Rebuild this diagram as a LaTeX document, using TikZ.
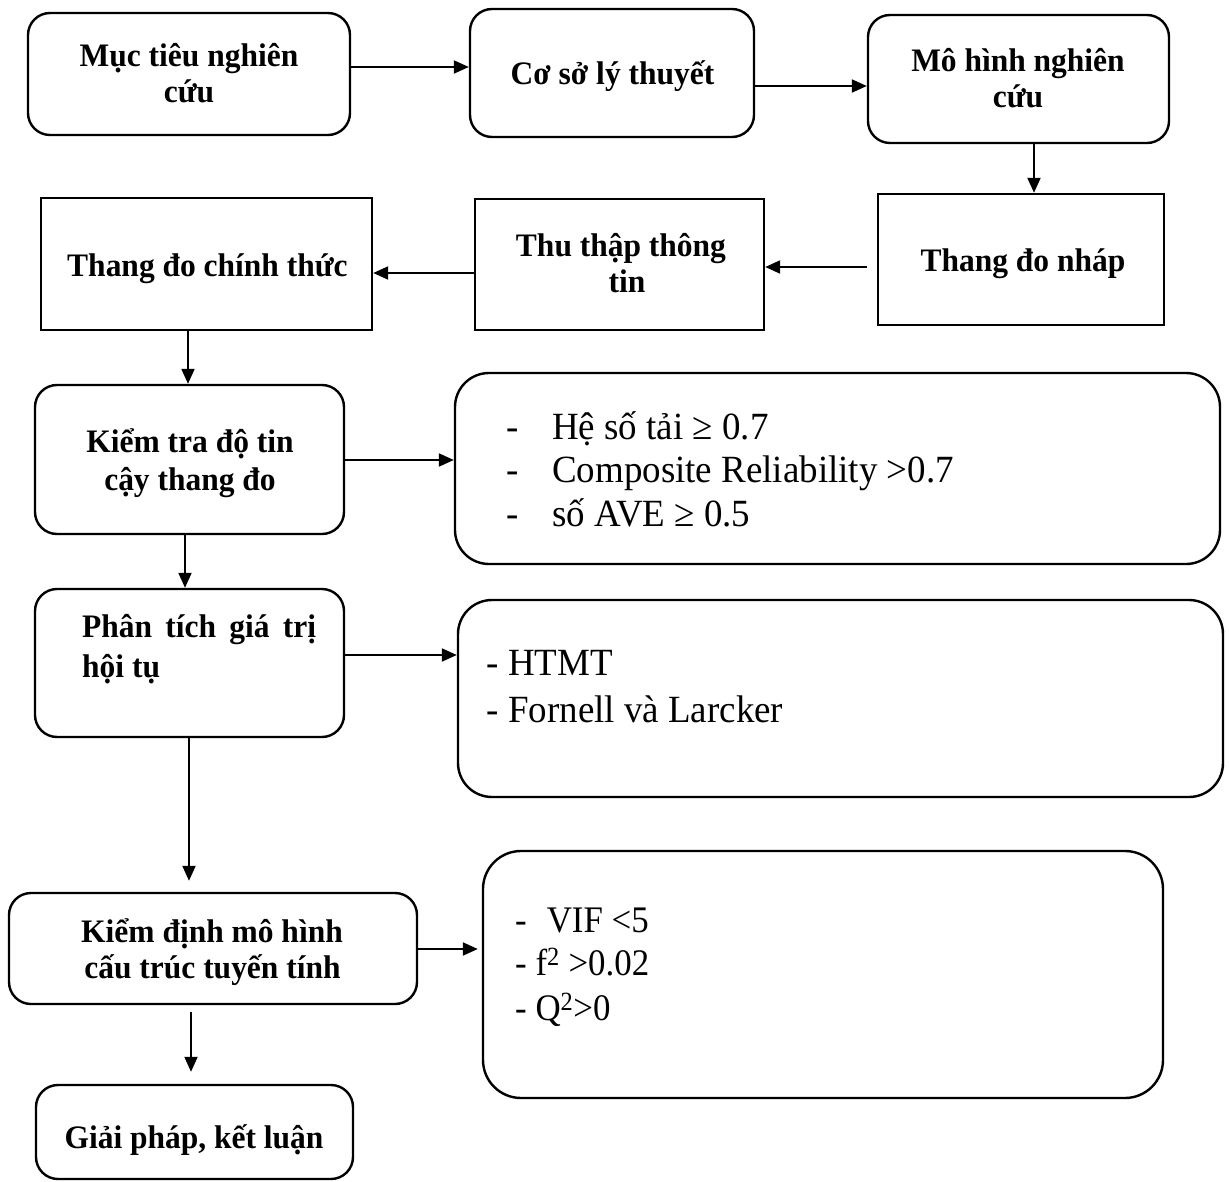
\documentclass[tikz,border=0pt]{standalone}
\usepackage{fontspec}
\setmainfont[FakeStretch=0.96]{Liberation Serif}
\newfontfamily\cthreefont[FakeStretch=0.93]{Liberation Serif}
\usetikzlibrary{arrows.meta}
\begin{document}
\begin{tikzpicture}[x=1pt,y=-1pt,
  rbox/.style={draw, line width=2.4pt, rounded corners=22pt, inner sep=0pt},
  bigbox/.style={draw, line width=2.4pt, rounded corners=34pt, inner sep=0pt},
  sbox/.style={draw, line width=2.4pt, inner sep=0pt},
  bt/.style={font=\fontsize{32.8}{36}\selectfont\bfseries, inner sep=0pt, anchor=base},
  btl/.style={font=\fontsize{32.8}{36}\selectfont\bfseries, inner sep=0pt, anchor=base west},
  rt/.style={font=\fontsize{38.5}{43}\selectfont, inner sep=0pt, anchor=base west},
  ct/.style={font=\cthreefont\fontsize{37.5}{43}\selectfont, inner sep=0pt, anchor=base west},
  arr/.style={line width=2pt, -{Triangle[length=15pt,width=13pt]}}]
\useasboundingbox (0,0) rectangle (1229,1182);

% boxes
\node[rbox, minimum width=322pt, minimum height=122pt] (b1) at (189,74) {};
\node[rbox, minimum width=284pt, minimum height=128pt] (b2) at (612,73) {};
\node[rbox, minimum width=301pt, minimum height=128pt] (b3) at (1018.5,79) {};
\node[sbox, minimum width=286pt, minimum height=131pt] (b4) at (1021,259.5) {};
\node[sbox, minimum width=289pt, minimum height=131pt] (b5) at (619.5,264.5) {};
\node[sbox, minimum width=331pt, minimum height=132pt] (b6) at (206.5,264) {};
\node[rbox, minimum width=309pt, minimum height=149pt] (b7) at (189.5,459.5) {};
\node[rbox, minimum width=309pt, minimum height=148pt] (b8) at (189.5,663) {};
\node[rbox, minimum width=408pt, minimum height=111pt] (b9) at (213,948.5) {};
\node[rbox, minimum width=317pt, minimum height=94pt] (b10) at (194.5,1132) {};
\node[bigbox, minimum width=765pt, minimum height=191pt] (c1) at (837.5,468.5) {};
\node[bigbox, minimum width=765pt, minimum height=197pt] (c2) at (840.5,698.5) {};
\node[bigbox, rounded corners=38pt, minimum width=680pt, minimum height=247pt] (c3) at (823,974.5) {};

% texts
\node[bt] (t1a) at (189,67) {Mục tiêu nghiên};
\node[bt] (t1b) at (189,103) {cứu};
\node[bt] (t2) at (612.5,85) {Cơ sở lý thuyết};
\node[bt] (t3a) at (1018,72) {Mô hình nghiên};
\node[bt] (t3b) at (1018,108) {cứu};
\node[bt] (t4) at (1023,272) {Thang đo nháp};
\node[bt] (t5a) at (621,257) {Thu thập thông};
\node[bt] (t5b) at (627,293) {tin};
\node[bt] (t6) at (207.5,277) {Thang đo chính thức};
\node[bt] (t7a) at (190,452) {Kiểm tra độ tin};
\node[bt] (t7b) at (190,490) {cậy thang đo};
\node[btl] (t8a) at (82,637) {\makebox[234pt][s]{Phân tích giá trị}};
\node[btl] (t8b) at (82,677) {hội tụ};
\node[bt] (t9a) at (212,942) {Kiểm định mô hình};
\node[bt] (t9b) at (212.5,978) {cấu trúc tuyến tính};
\node[bt] (t10) at (194,1148) {Giải pháp, kết luận};

\node[rt] (d1a) at (506,439) {-};
\node[rt] (c1a) at (552,439) {Hệ số tải ≥ 0.7};
\node[rt] (d1b) at (506,482) {-};
\node[rt] (c1b) at (552,482) {Composite Reliability >0.7};
\node[rt] (d1c) at (506,526) {-};
\node[rt] (c1c) at (552,526) {số AVE ≥ 0.5};

\node[rt] (c2a) at (486.5,675) {- HTMT};
\node[rt] (c2b) at (486.5,722) {- Fornell và Larcker};

\node[ct] (c3a) at (515,932) {-\hspace{20pt}VIF <5};
\node[ct] (c3b) at (515,975) {- f\textsuperscript{2} >0.02};
\node[ct] (c3c) at (515,1020) {- Q\textsuperscript{2}>0};

% arrows
\draw[arr] ([yshift=7pt]b1.east) -- ([yshift=6pt]b2.west);
\draw[arr] ([yshift=-13pt]b2.east) -- ([yshift=-7pt]b3.west);
\draw[arr] ([xshift=15.5pt]b3.south) -- ([xshift=13pt]b4.north);
\draw[arr] ([xshift=-10pt,yshift=-7.5pt]b4.west) -- ([yshift=-2.5pt]b5.east);
\draw[arr] ([yshift=-8.5pt]b5.west) -- ([yshift=-9pt]b6.east);
\draw[arr] ([xshift=-18.5pt]b6.south) -- ([xshift=-1.5pt]b7.north);
\draw[arr] ([yshift=-0.5pt]b7.east) -- ([yshift=8.5pt]c1.west);
\draw[arr] ([xshift=-4.5pt]b7.south) -- ([xshift=-4.5pt]b8.north);
\draw[arr] ([yshift=8pt]b8.east) -- ([yshift=43.5pt]c2.west);
\draw[arr] ([xshift=-0.5pt]b8.south) -- ([xshift=-24pt,yshift=11pt]b9.north);
\draw[arr] ([yshift=-0.5pt]b9.east) -- ([xshift=-4pt,yshift=25.5pt]c3.west);
\draw[arr] ([xshift=-22pt,yshift=-7pt]b9.south) -- ([xshift=-3.5pt,yshift=12pt]b10.north);
\end{tikzpicture}
\end{document}
